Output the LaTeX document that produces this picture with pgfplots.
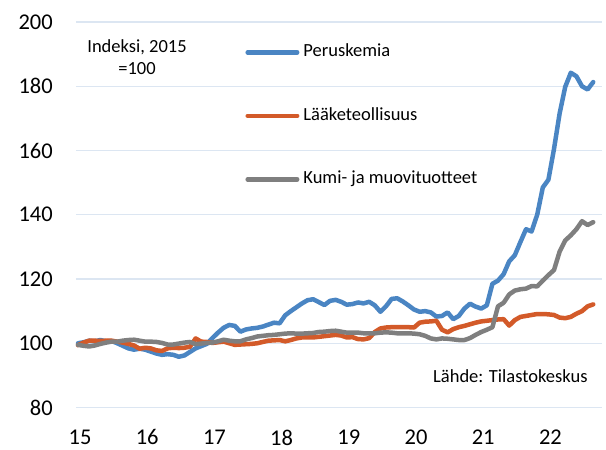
\documentclass[border=0pt]{standalone}
\usepackage{fontspec}
\setmainfont{Carlito}
\usepackage{pgfplots}
\usepackage{pgfplotstable}
\pgfplotsset{compat=1.18}
\definecolor{cblue}{HTML}{4A85C3}
\definecolor{corange}{HTML}{D35A29}
\definecolor{cgray}{HTML}{7F7F7F}
\definecolor{cgrid}{HTML}{DCE6F2}
\pgfplotstableread{
m v
0 100
1 100.3
2 100.8
3 100.6
4 101.0
5 100.6
6 100.7
7 100.0
8 99.2
9 98.4
10 98.0
11 98.3
12 98.0
13 97.4
14 96.8
15 96.4
16 96.6
17 96.4
18 95.8
19 96.2
20 97.3
21 98.4
22 99.1
23 99.8
24 101.6
25 103.3
26 104.8
27 105.7
28 105.4
29 103.6
30 104.3
31 104.6
32 104.8
33 105.2
34 105.8
35 106.4
36 106.2
37 108.7
38 110.0
39 111.2
40 112.4
41 113.4
42 113.7
43 112.8
44 111.9
45 113.2
46 113.5
47 112.9
48 112.0
49 112.2
50 112.7
51 112.4
52 112.9
53 111.8
54 109.8
55 111.5
56 113.8
57 114.0
58 113.0
59 111.8
60 110.5
61 109.8
62 110.0
63 109.6
64 108.3
65 108.5
66 109.6
67 107.5
68 108.5
69 110.8
70 112.3
71 111.4
72 110.8
73 111.8
74 118.5
75 119.5
76 121.5
77 125.5
78 127.4
79 131.5
80 135.5
81 134.8
82 140.0
83 148.5
84 150.9
85 160.5
86 171.5
87 179.8
88 184.2
89 183.1
90 180.0
91 179.0
92 181.3
}\peruskemia
\pgfplotstableread{
m v
0 99.4
1 100.2
2 100.8
3 100.8
4 100.7
5 100.8
6 100.8
7 100.5
8 100.2
9 99.8
10 99.3
11 98.3
12 98.6
13 98.4
14 97.8
15 97.6
16 98.4
17 98.6
18 98.5
19 98.6
20 98.9
21 101.5
22 100.5
23 100.4
24 100.1
25 100.3
26 100.5
27 100.0
28 99.5
29 99.6
30 99.7
31 99.8
32 100.0
33 100.4
34 100.8
35 100.9
36 101.0
37 100.6
38 101.0
39 101.5
40 101.8
41 101.8
42 101.8
43 102.0
44 102.2
45 102.4
46 102.6
47 102.4
48 101.8
49 101.9
50 101.3
51 101.2
52 101.6
53 103.5
54 104.6
55 104.9
56 105.0
57 105.0
58 105.0
59 105.0
60 104.9
61 106.4
62 106.7
63 106.8
64 107.0
65 104.2
66 103.4
67 104.4
68 105.0
69 105.4
70 105.9
71 106.4
72 106.8
73 107.0
74 107.2
75 107.4
76 107.5
77 105.5
78 107.2
79 108.2
80 108.5
81 108.8
82 109.1
83 109.1
84 109.0
85 108.8
86 108.0
87 107.8
88 108.2
89 109.2
90 110.0
91 111.5
92 112.1
}\laake
\pgfplotstableread{
m v
0 99.5
1 99.2
2 99.0
3 99.3
4 99.8
5 100.2
6 100.5
7 100.5
8 100.8
9 101.0
10 101.1
11 100.8
12 100.5
13 100.5
14 100.4
15 100.1
16 99.6
17 99.6
18 99.9
19 100.2
20 100.4
21 99.7
22 99.9
23 100.1
24 100.2
25 100.6
26 101.1
27 100.8
28 100.6
29 100.6
30 101.2
31 101.6
32 102.1
33 102.3
34 102.5
35 102.6
36 102.8
37 103.0
38 103.1
39 103.0
40 103.0
41 103.1
42 103.2
43 103.5
44 103.6
45 103.8
46 103.9
47 103.6
48 103.3
49 103.3
50 103.3
51 103.1
52 103.1
53 103.1
54 103.3
55 103.4
56 103.3
57 103.1
58 103.1
59 103.1
60 103.0
61 102.8
62 102.3
63 101.5
64 101.2
65 101.5
66 101.4
67 101.2
68 101.0
69 101.0
70 101.6
71 102.6
72 103.5
73 104.2
74 105.0
75 111.5
76 112.6
77 115.2
78 116.4
79 116.8
80 117.0
81 117.8
82 117.7
83 119.5
84 121.2
85 122.8
86 128.5
87 132.0
88 133.6
89 135.5
90 138.0
91 136.8
92 137.7
}\kumi
\begin{document}
\begin{tikzpicture}
\path[use as bounding box] (-76pt,-42.5pt) rectangle (530pt,407.5pt);
\begin{axis}[
  at={(0pt,0pt)}, anchor=south west,
  scale only axis, width=526pt, height=385.5pt,
  xmin=-0.357, xmax=93.57, ymin=80, ymax=200,
  ytick={80,100,...,200},
  xtick={0.36,12.36,24.36,36.36,48.36,60.36,72.36,84.36},
  xticklabels={15,16,17,18,19,20,21,22},
  /pgf/number format/assume math mode=true,
  axis line style={draw=none},
  tick style={draw=none},
  ymajorgrids, major grid style={color=cgrid, line width=1.2pt},
  ticklabel style={font=\fontsize{22.5}{27}\selectfont},
  yticklabel style={inner sep=0pt, anchor=east, xshift=-23pt},
  xticklabel style={inner sep=0pt, anchor=north, yshift=-22pt},
  every axis plot/.append style={line width=4.5pt, line join=round, line cap=round},
  legend image code/.code={\draw[#1] (0pt,0pt) -- (49.5pt,0pt);},
  legend cell align=left,
  legend style={at={(axis cs:29.9,193.5)}, anchor=north west, draw=none, fill=none,
    inner sep=0pt, outer sep=0pt, row sep=44.5pt, column sep=4pt,
    font=\fontsize{18.5}{22}\selectfont,
    nodes={inner sep=0pt, outer sep=0pt, text height=14pt, text depth=5pt}},
]
\addplot[cblue] table[x=m,y=v] {\peruskemia};
\addlegendentry{Peruskemia}
\addplot[corange] table[x=m,y=v] {\laake};
\addlegendentry{Lääketeollisuus}
\addplot[cgray] table[x=m,y=v] {\kumi};
\addlegendentry{Kumi- ja muovituotteet}
\node[font=\fontsize{18.5}{22}\selectfont, anchor=base, inner sep=0pt] at (axis cs:10.54,190.35) {Indeksi, 2015};
\node[font=\fontsize{18.5}{22}\selectfont, anchor=base, inner sep=0pt] at (axis cs:10.54,183.8) {=100};
\node[font=\fontsize{18.5}{22}\selectfont, anchor=base west, inner sep=0pt] at (axis cs:63.39,87.9) {Lähde: Tilastokeskus};
\end{axis}
\end{tikzpicture}
\end{document}
